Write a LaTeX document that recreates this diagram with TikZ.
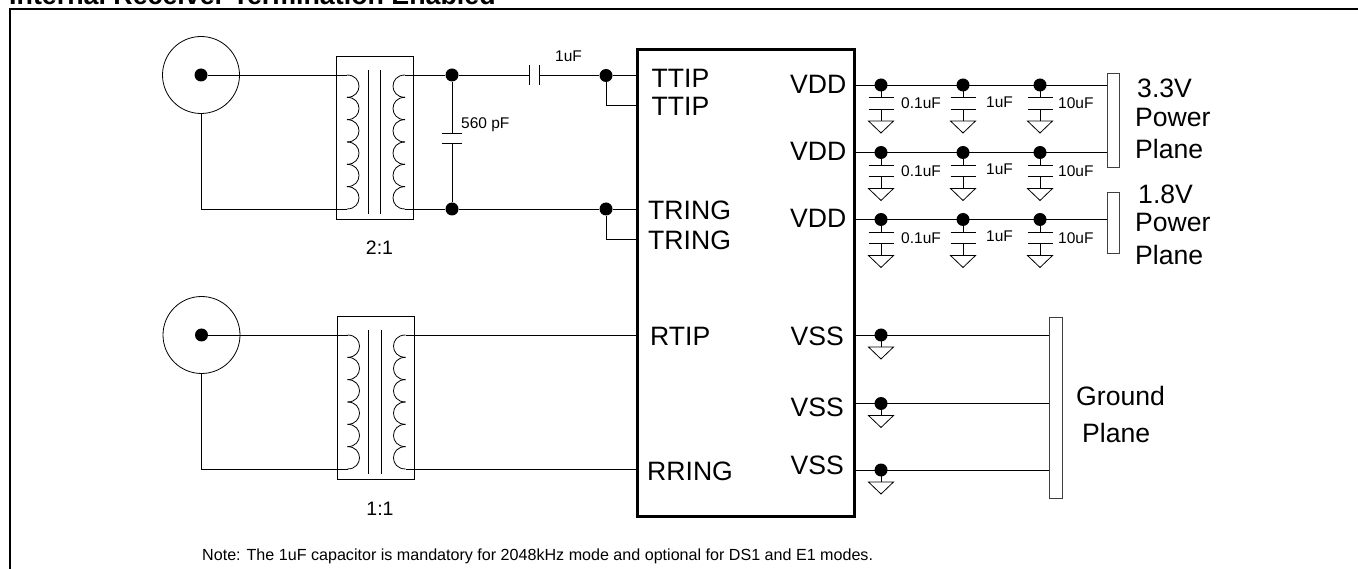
\documentclass[tikz,border=0pt]{standalone}
\usepackage{fontspec}
\setmainfont{Liberation Sans}
\tikzset{
  wire/.style={line width=0.8pt},
  dot/.style={circle,fill=black,inner sep=0pt,minimum size=13pt},
  coax/.style={circle,draw,line width=0.8pt,inner sep=0pt,minimum size=77pt},
  xfmr/.style={draw,line width=0.8pt,inner sep=0pt,minimum width=77pt,minimum height=163pt},
  plane/.style={draw=black!75,line width=0.9pt,inner sep=0pt},
  chip/.style={draw,line width=3pt,inner sep=0pt,minimum width=217pt,minimum height=467pt},
  pin/.style={anchor=base west,inner sep=0pt,font=\fontsize{26.6}{28}\selectfont},
  val/.style={anchor=base west,inner sep=0pt,font=\fontsize{15.5}{18}\selectfont},
  gnd/.pic={\draw[wire] (-12.5,0) -- (12.5,0) -- (0,12) -- cycle;},
  decap/.pic={
    \draw[wire] (0,0) -- (0,12.5) (-12.5,12.5) -- (12.5,12.5);
    \draw[wire] (-12.5,24) -- (12.5,24) (0,24) -- (0,36);
    \pic at (0,36) {gnd};
  }
}
\begin{document}
\begin{tikzpicture}[x=1pt,y=-1pt]
  \useasboundingbox (0,0) rectangle (1358,569);
  \begin{scope}
    \clip (0,0) rectangle (1358,569);
    \node[anchor=base west,inner sep=0pt,font=\fontsize{26.8}{28}\selectfont\bfseries] (title) at (9,5) {Internal Receiver Termination Enabled};
    \draw[line width=2pt] (10,569) -- (10,9) -- (1358,9);
  \end{scope}

  % the two line inputs
  \foreach \n/\dx/\dy/\ratio in {a/0/0/2:1,b/0.5/260/1:1}{
    \begin{scope}[shift={(\dx,\dy)}]
      \node[coax] (coax\n) at (201,75) {};
      \node[dot] (input\n) at (coax\n) {};
      \node[xfmr] (xfmr\n) at (375,137.5) {};
      \coordinate (pritop\n) at (347,75);
      \coordinate (pribot\n) at (347,209);
      \coordinate (sectop\n) at (405,75);
      \coordinate (secbot\n) at (405,209);
      \draw[wire] (input\n) -- (pritop\n);
      \draw[wire] (coax\n.south) |- (pribot\n);
      \draw[wire] (368,70) -- (368,214) (380.5,70) -- (380.5,214);
      \foreach \i in {0,...,5}{
        \draw[wire] (347,{75+22.33*\i}) .. controls (363,{75+22.33*\i}) and (363,{75+22.33*(\i+1)}) .. (347,{75+22.33*(\i+1)});
        \draw[wire] (405,{75+22.33*\i}) .. controls (389,{75+22.33*\i}) and (389,{75+22.33*(\i+1)}) .. (405,{75+22.33*(\i+1)});
      }
      \node[anchor=base,inner sep=0pt,font=\fontsize{19.5}{20}\selectfont] (ratio\n) at (379.5,255) {\ratio};
    \end{scope}
  }

  \node[chip] (chip) at (745.5,283) {};
  \node[pin] (ttipa) at (651.5,88) {TTIP};
  \node[pin] (ttipb) at (651.5,116) {TTIP};
  \node[pin] (tringa) at (648,220) {TRING};
  \node[pin] (tringb) at (648,250) {TRING};
  \node[pin] (rtip) at (650,346) {RTIP};
  \node[pin] (rring) at (647,480) {RRING};
  \node[pin] (vdda) at (790,94) {VDD};
  \node[pin] (vddb) at (790,161) {VDD};
  \node[pin] (vddc) at (790,228) {VDD};
  \node[pin] (vssa) at (790.5,345) {VSS};
  \node[pin] (vssb) at (790.5,417) {VSS};
  \node[pin] (vssc) at (790.5,474) {VSS};

  % transmit side
  \node[dot] (tpa) at (452,75) {};
  \node[dot] (tpb) at (452,209) {};
  \node[dot] (tta) at (606,75.5) {};
  \node[dot] (ttb) at (606,209) {};
  \coordinate (capta) at (452,133.5);
  \coordinate (captb) at (452,143);
  \coordinate (capsa) at (529.5,75);
  \coordinate (capsb) at (539.5,75.5);
  \coordinate (tipsec) at (637,105);
  \coordinate (ringsec) at (637,239);
  \draw[wire] (sectopa) -- (tpa);
  \draw[wire] (secbota) -- (tpb) -- (ttb);
  \draw[wire] (tpa) -- (capsa);
  \draw[wire] (capsb) -- (tta);
  \draw[wire] (tpa) -- (capta);
  \draw[wire] (captb) -- (tpb);
  \draw[wire] (529.5,65) -- (529.5,85) (539.5,65) -- (539.5,85);
  \draw[wire] (442,133.5) -- (462,133.5) (442,143) -- (462,143);
  \draw[wire] (tta) -- (637,75.5);
  \draw[wire] (ttb) -- (637,209);
  \draw[wire] (tta) |- (tipsec);
  \draw[wire] (ttb) |- (ringsec);
  \node[val] (cblock) at (555,61.5) {1uF};
  \node[val] (cshunt) at (461,129) {560 pF};

  % receive side
  \draw[wire] (sectopb) -- (chip.west |- sectopb);
  \draw[wire] (secbotb) -- (chip.west |- secbotb);

  % supply rows
  \node[plane,minimum width=12pt,minimum height=94pt] (plane33) at (1113,120) {};
  \node[plane,minimum width=12pt,minimum height=61pt] (plane18) at (1113,222.5) {};
  \foreach \r/\y/\p in {a/85/plane33,b/152.5/plane33,c/219.5/plane18}{
    \coordinate (rail\r) at (854,\y);
    \draw[wire] (rail\r) -- (\p.west |- rail\r);
    \node[dot] (dec\r1) at (881,\y) {};
    \node[dot] (dec\r2) at (963,\y) {};
    \node[dot] (dec\r3) at (1040,\y) {};
    \pic at (dec\r1.center) {decap};
    \pic at (dec\r2.center) {decap};
    \pic at (dec\r3.center) {decap};
    \node[val] (val\r1) at (901,{\y+24}) {0.1uF};
    \node[val] (val\r2) at (986,{\y+22.5}) {1uF};
    \node[val] (val\r3) at (1058,{\y+24}) {10uF};
  }
  \node[pin] (volta) at (1137,98) {3.3V};
  \node[pin] (powa) at (1135,127) {Power};
  \node[pin] (plna) at (1135,159) {Plane};
  \node[pin] (voltb) at (1138,204) {1.8V};
  \node[pin] (powb) at (1135,232) {Power};
  \node[pin] (plnb) at (1135,265) {Plane};

  % ground rows
  \node[plane,minimum width=13pt,minimum height=181pt] (planegnd) at (1055.5,407.5) {};
  \foreach \r/\y in {a/335,b/403.5,c/470}{
    \coordinate (return\r) at (854,\y);
    \draw[wire] (return\r) -- (planegnd.west |- return\r);
    \node[dot] (ret\r) at (881,\y) {};
    \draw[wire] (ret\r.center) -- ++(0,12);
    \pic at ([yshift=-12pt]ret\r.center) {gnd};
  }
  \node[pin] (gnda) at (1076,405) {Ground};
  \node[pin] (gndb) at (1082,442) {Plane};

  \node[anchor=base west,inner sep=0pt,font=\fontsize{16.1}{18}\selectfont] (note) at (202,560) {Note: The 1uF capacitor is mandatory for 2048kHz mode and optional for DS1 and E1 modes.};
\end{tikzpicture}
\end{document}
